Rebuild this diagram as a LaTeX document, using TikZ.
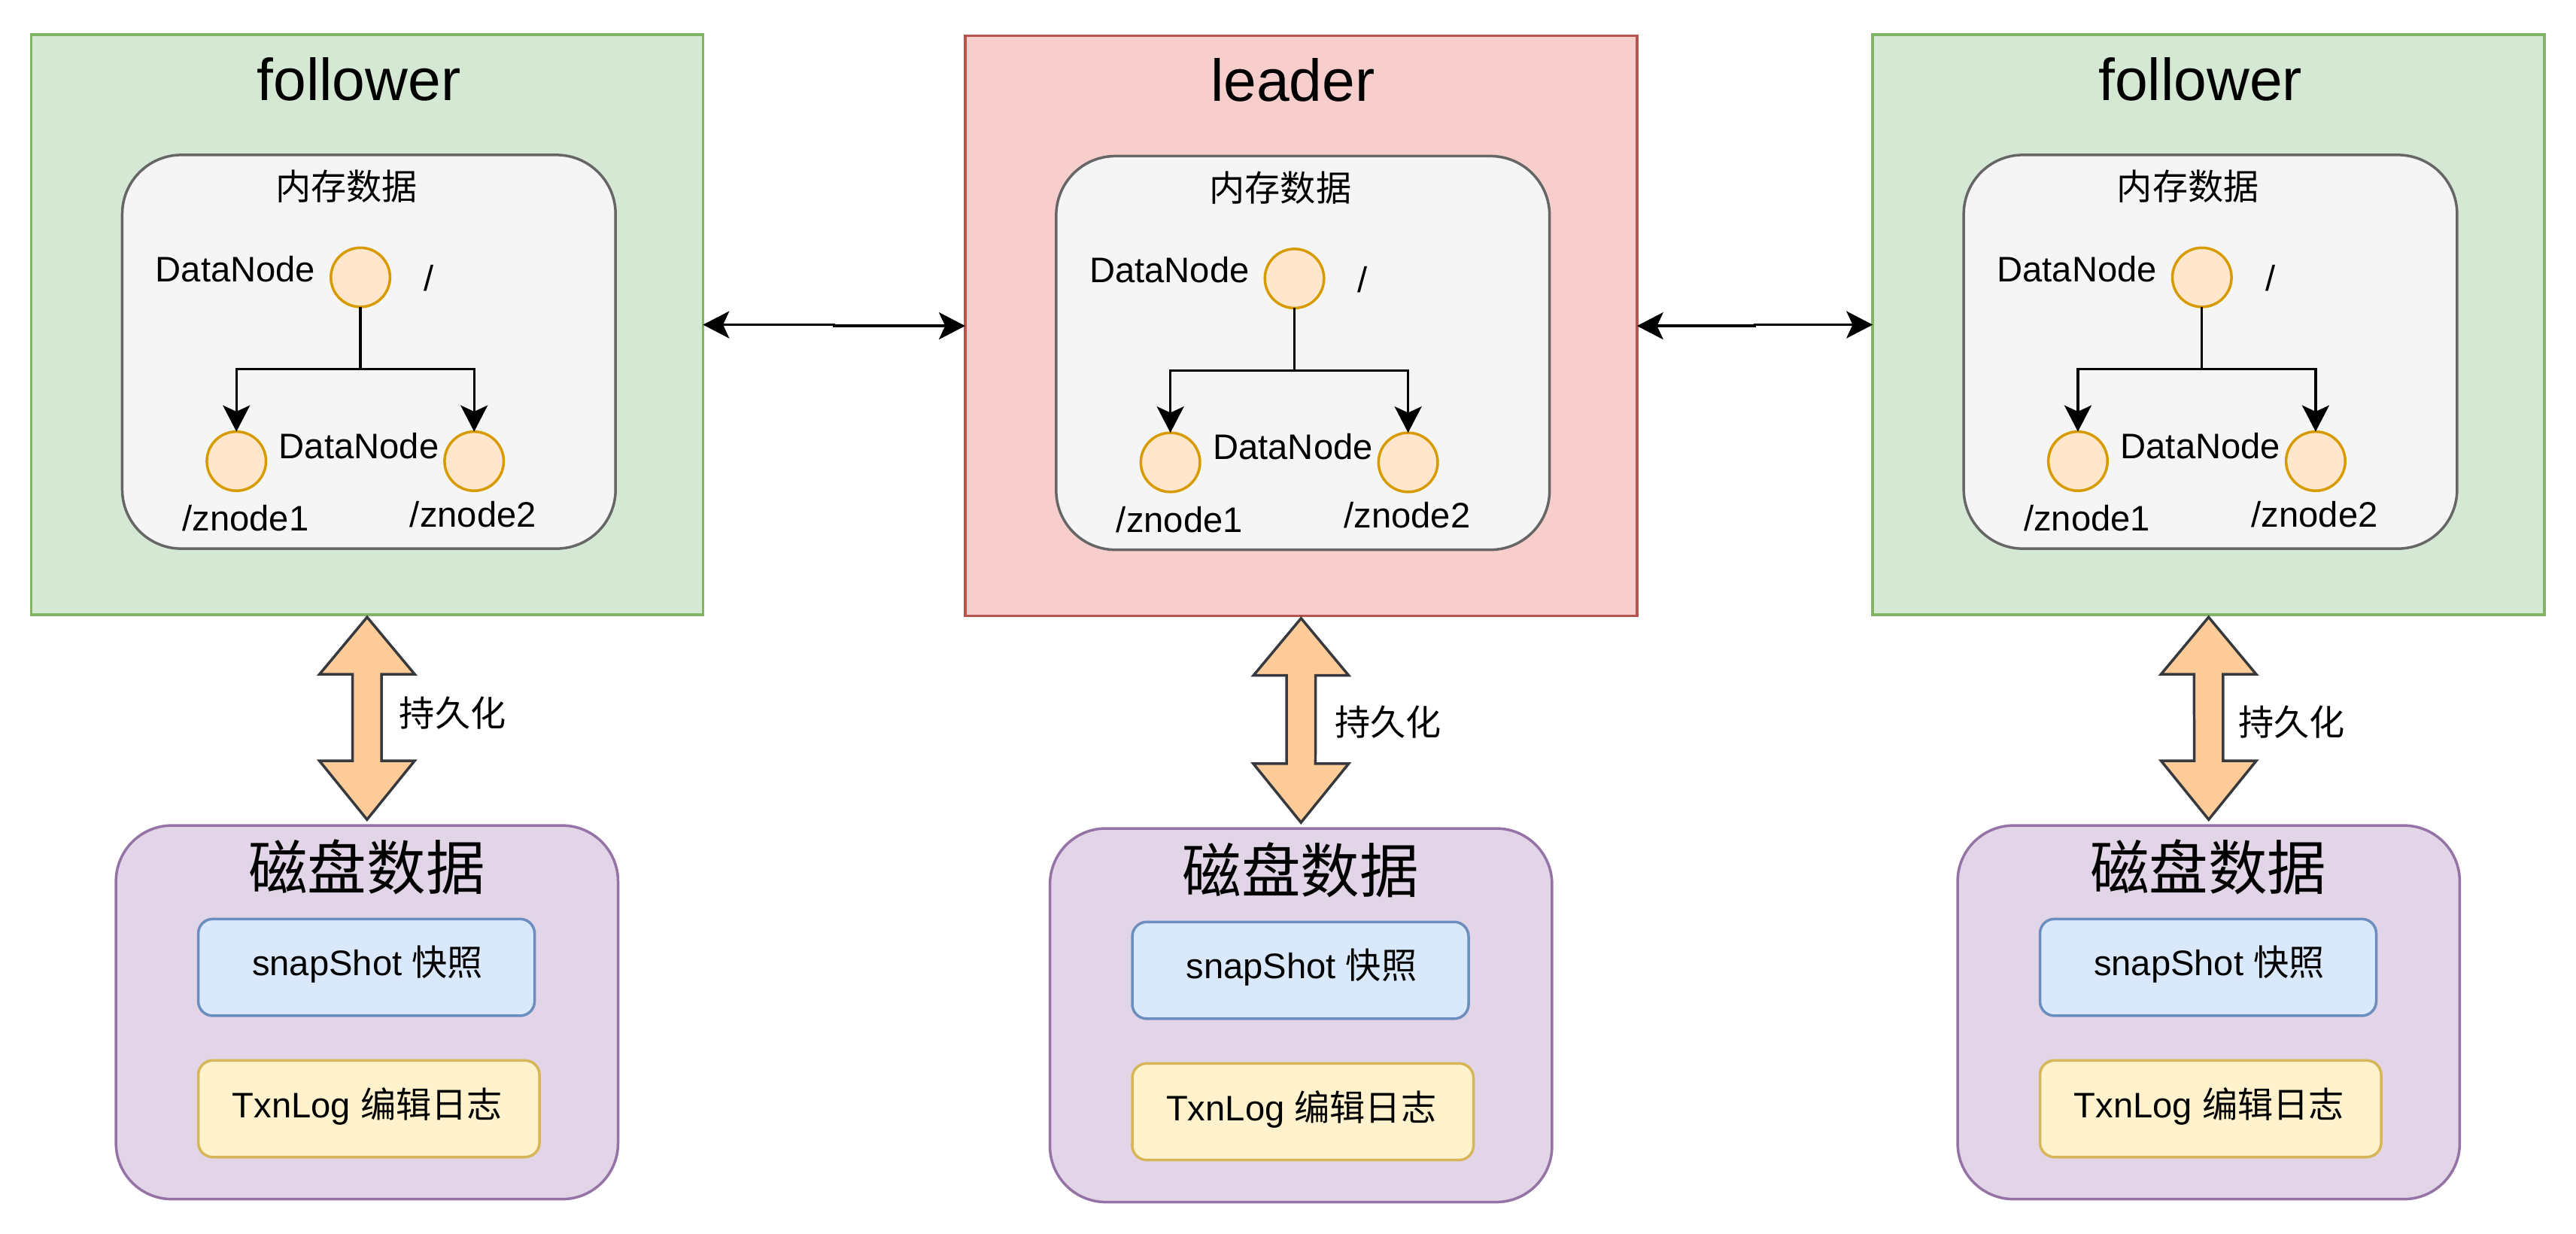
\documentclass[tikz,border=0pt]{standalone}
\usepackage{fontspec}
\setmainfont{Liberation Sans}
\newfontfamily\cjk{Noto Sans CJK SC}
\usetikzlibrary{arrows.meta,calc}
\definecolor{gfill}{HTML}{D5E8D4}
\definecolor{gstroke}{HTML}{82B366}
\definecolor{rfill}{HTML}{F8CECC}
\definecolor{rstroke}{HTML}{B85450}
\definecolor{innerfill}{HTML}{F5F5F5}
\definecolor{innerstroke}{HTML}{666666}
\definecolor{dnfill}{HTML}{FFE6CC}
\definecolor{dnstroke}{HTML}{D79B00}
\definecolor{pfill}{HTML}{E1D5E7}
\definecolor{pstroke}{HTML}{9673A6}
\definecolor{sfill}{HTML}{DAE8FC}
\definecolor{sstroke}{HTML}{6C8EBF}
\definecolor{tfill}{HTML}{FFF2CC}
\definecolor{tstroke}{HTML}{D6B656}
\definecolor{fatfill}{HTML}{FFCC99}
\definecolor{fatstroke}{HTML}{36393D}
\tikzset{
  boxshape/.style={draw, line width=1.6pt, inner sep=0pt, outer sep=0pt},
  lbl/.style={inner sep=0pt, outer sep=0pt, anchor=base, font=\fontsize{21.6}{26}\selectfont},
  biglbl/.style={inner sep=0pt, outer sep=0pt, anchor=base, font=\fontsize{36}{43}\selectfont},
  dn/.style={circle, draw=dnstroke, fill=dnfill, line width=1.6pt, minimum size=36pt, inner sep=0pt, outer sep=0pt},
  tip/.style={Stealth[length=16pt,width=16.5pt,inset=3.8pt]},
  tree/.style={line width=1.5pt, -{Stealth[length=16pt,width=16.5pt,inset=3.8pt]}},
  link/.style={line width=1.5pt, {Stealth[length=16pt,width=16.5pt,inset=3.8pt]}-{Stealth[length=16pt,width=16.5pt,inset=3.8pt]}},
  fat/.style={fill=fatfill, draw=fatstroke, line width=1.6pt, line join=miter},
  pics/toppanel/.style n args={3}{code={
    \node[boxshape, fill=#2, draw=#3, minimum width=408.9pt, minimum height=353.1pt] (-box) at (204.45,176.55) {};
    \node[biglbl] (-title) at (199.4,39.9) {#1};
    \node[boxshape, rounded corners=36pt, fill=innerfill, draw=innerstroke, minimum width=300.3pt, minimum height=239.6pt] (-mem) at (205.55,193.0) {};
    \node[lbl, font=\cjk\fontsize{21.6}{26}\selectfont] (-memt) at (191.9,100.6) {内存数据};
    \node[dn] (-root) at (200.4,147.7) {};
    \node[dn] (-c1) at (124.9,259.6) {};
    \node[dn] (-c2) at (269.6,259.6) {};
    \node[lbl] (-rootl) at (124.3,150.3) {DataNode};
    \node[lbl] (-slash) at (242,156) {/};
    \node[lbl] (-midl) at (199.5,257.8) {DataNode};
    \node[lbl] (-z1) at (130.5,302) {/znode1};
    \node[lbl] (-z2) at (269,299.6) {/znode2};
    \draw[tree] (-root.south) -- ++(0,37.95) -| (-c1.north);
    \draw[tree] (-root.south) -- ++(0,37.95) -| (-c2.north);
  }},
  pics/diskpanel/.style={code={
    \node[boxshape, rounded corners=34pt, fill=pfill, draw=pstroke, minimum width=305.6pt, minimum height=227.4pt] (-disk) at (152.8,113.7) {};
    \node[biglbl, font=\cjk\fontsize{36}{43}\selectfont] (-diskt) at (152.6,39.0) {磁盘数据};
    \node[boxshape, rounded corners=8.8pt, fill=sfill, draw=sstroke, minimum width=204.7pt, minimum height=58.9pt] (-snap) at (152.45,86.35) {};
    \node[lbl] (-snapt) at (153.1,91.4) {snapShot {\cjk 快照}};
    \node[boxshape, rounded corners=8.8pt, fill=tfill, draw=tstroke, minimum width=207.7pt, minimum height=58.8pt] (-txn) at (153.95,172.4) {};
    \node[lbl] (-txnt) at (153.0,177.8) {TxnLog {\cjk 编辑日志}};
  }}
}
\newcommand\fatarrow[2]{%
  \draw[fat] ($(#1)+(0,1.4)$) -- ($(#1)+(29,36.2)$) -- ($(#1)+(8.8,36.2)$)
    -- ($(#2)+(8.8,-39.4)$) -- ($(#2)+(29,-39.4)$) -- ($(#2)+(0,-3.6)$)
    -- ($(#2)+(-29,-39.4)$) -- ($(#2)+(-8.8,-39.4)$) -- ($(#1)+(-8.8,36.2)$)
    -- ($(#1)+(-29,36.2)$) -- cycle;}
\begin{document}
\begin{tikzpicture}[x=1pt,y=-1pt]
  \path[use as bounding box, fill=white] (0,0) rectangle (1568,751);
  \pic (L) at (19.0,21.1) {toppanel={follower}{gfill}{gstroke}};
  \pic (M) at (587.5,21.8) {toppanel={leader}{rfill}{rstroke}};
  \pic (R) at (1139.9,21.1) {toppanel={follower}{gfill}{gstroke}};
  \pic (LD) at (70.6,502.4) {diskpanel};
  \pic (MD) at (639.1,504.2) {diskpanel};
  \pic (RD) at (1191.6,502.4) {diskpanel};
  \draw[link] (L-box.east) -- ++(79.8,0) |- (M-box.west);
  \draw[link] (M-box.east) -- ++(71.75,0) |- (R-box.west);
  \fatarrow{L-box.south}{LD-disk.north}
  \fatarrow{M-box.south}{MD-disk.north}
  \fatarrow{R-box.south}{RD-disk.north}
  \node[lbl, anchor=base west, font=\cjk\fontsize{21.6}{26}\selectfont] (Lp) at (243.1,442.0) {持久化};
  \node[lbl, anchor=base west, font=\cjk\fontsize{21.6}{26}\selectfont] (Mp) at (812.4,447.5) {持久化};
  \node[lbl, anchor=base west, font=\cjk\fontsize{21.6}{26}\selectfont] (Rp) at (1362.6,447.5) {持久化};
\end{tikzpicture}
\end{document}
